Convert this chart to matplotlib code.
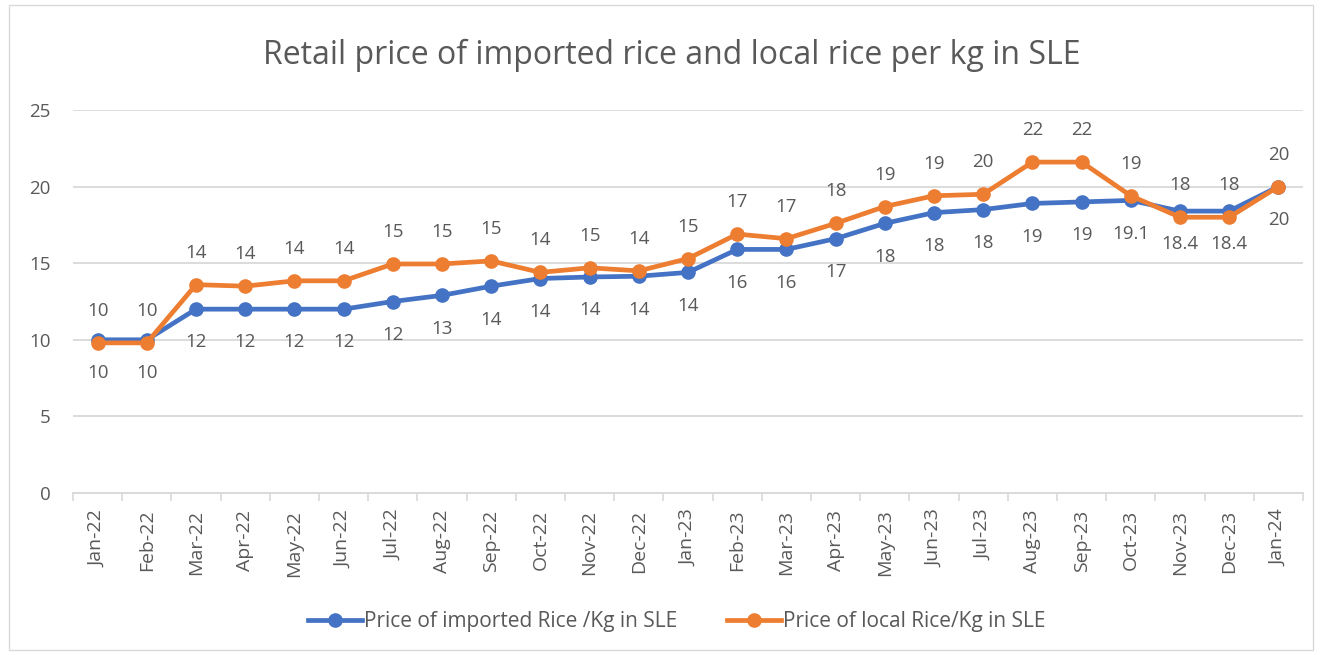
import matplotlib.pyplot as plt
from matplotlib.patches import Rectangle

plt.rcParams['font.family'] = ['Open Sans', 'DejaVu Sans']

months = ['Jan-22', 'Feb-22', 'Mar-22', 'Apr-22', 'May-22', 'Jun-22', 'Jul-22', 'Aug-22',
          'Sep-22', 'Oct-22', 'Nov-22', 'Dec-22', 'Jan-23', 'Feb-23', 'Mar-23', 'Apr-23',
          'May-23', 'Jun-23', 'Jul-23', 'Aug-23', 'Sep-23', 'Oct-23', 'Nov-23', 'Dec-23', 'Jan-24']

# imported rice price (SLE/kg)
imported = [10.0, 10.0, 12.0, 12.0, 12.0, 12.0, 12.5, 12.9, 13.5, 14.0, 14.1, 14.15, 14.4,
            15.9, 15.9, 16.6, 17.6, 18.3, 18.5, 18.9, 19.0, 19.1, 18.4, 18.4, 20.0]
imported_labels = ['10', '10', '12', '12', '12', '12', '12', '13', '14', '14', '14', '14', '14',
                   '16', '16', '17', '18', '18', '18', '19', '19', '19.1', '18.4', '18.4', '20']

# local rice price (SLE/kg)
local = [9.8, 9.8, 13.6, 13.5, 13.85, 13.85, 14.95, 14.95, 15.15, 14.4, 14.7, 14.5, 15.3,
         16.9, 16.6, 17.6, 18.7, 19.4, 19.5, 21.6, 21.6, 19.4, 18.0, 18.0, 20.0]
local_labels = ['10', '10', '14', '14', '14', '14', '15', '15', '15', '14', '15', '14', '15',
                '17', '17', '18', '19', '19', '20', '22', '22', '19', '18', '18', '20']

blue = '#4472C4'
orange = '#ED7D31'
txt = '#595959'
grid = '#D9D9D9'

fig = plt.figure(figsize=(13.22, 6.55), dpi=100)
ax = fig.add_axes([73 / 1322, 1 - 493 / 655, (1303 - 73) / 1322, (493 - 110) / 655])

x = list(range(len(months)))
ax.plot(x, imported, color=blue, lw=3.4, marker='o', ms=9.5,
        label='Price of imported Rice /Kg in SLE', zorder=3)
ax.plot(x, local, color=orange, lw=3.4, marker='o', ms=9.5,
        label='Price of local Rice/Kg in SLE', zorder=4)

for i in x:
    ax.annotate(imported_labels[i], (i, imported[i]), xytext=(0, -24), textcoords='offset points',
                ha='center', va='center', fontsize=13.5, color=txt)
    ax.annotate(local_labels[i], (i, local[i]), xytext=(0, 23), textcoords='offset points',
                ha='center', va='center', fontsize=13.5, color=txt)

ax.set_xlim(-0.5, len(months) - 0.5)
ax.set_ylim(0, 25)
ax.set_yticks([0, 5, 10, 15, 20, 25])
ax.set_xticks(x)
ax.set_xticklabels(months, rotation=90)
ax.set_xticks([i - 0.5 for i in range(len(months) + 1)], minor=True)
ax.tick_params(axis='x', which='major', length=0, pad=12, labelsize=14, labelcolor=txt)
ax.tick_params(axis='x', which='minor', length=6, color=grid, width=1.2)
ax.tick_params(axis='y', length=0, pad=16, labelsize=13.5, labelcolor=txt)

ax.grid(axis='y', color=grid, lw=1.3)
ax.set_axisbelow(True)
for s in ['top', 'right', 'left']:
    ax.spines[s].set_visible(False)
ax.spines['bottom'].set_color(grid)
ax.spines['bottom'].set_linewidth(1.3)

fig.text(0.508, 1 - 55 / 655, 'Retail price of imported rice and local rice per kg in SLE',
         ha='center', va='center', fontsize=23, color=txt)

fig.legend(loc='center', bbox_to_anchor=(0.512, 1 - 622 / 655), ncol=2, frameon=False,
           fontsize=15, labelcolor=txt, handlelength=2.6, columnspacing=2.4, handletextpad=0.1)

fig.patches.append(Rectangle((9 / 1322, 5 / 655), 1304 / 1322, 645 / 655, transform=fig.transFigure,
                             fill=False, edgecolor=grid, lw=1))

fig.savefig('out.png', dpi=100)
